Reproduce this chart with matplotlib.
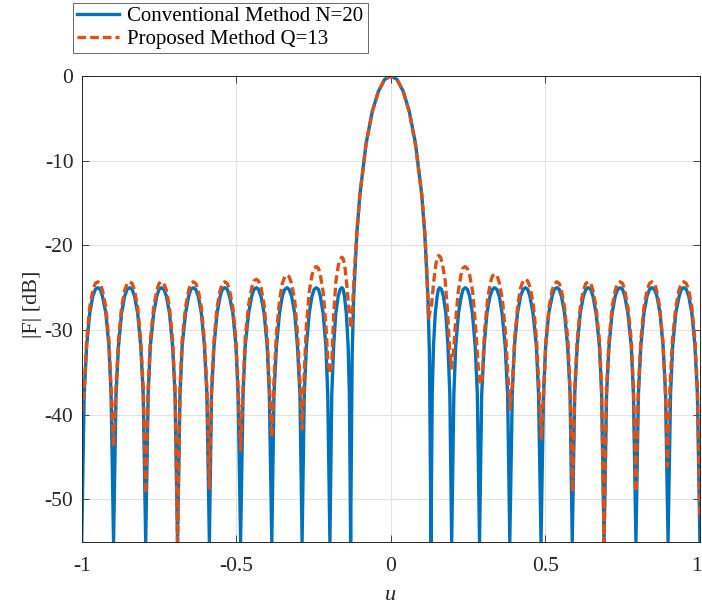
### array factor comparison: conventional vs proposed method

import numpy as np
import matplotlib
matplotlib.use('Agg')
import matplotlib.pyplot as plt
from matplotlib.transforms import ScaledTranslation

# conventional method N=20
u_conv = [
    -1.000, -0.992, -0.984, -0.974, -0.964, -0.956, -0.948, -0.940, -0.933, -0.922, -0.912, -0.905, -0.897,
    -0.889, -0.881, -0.871, -0.861, -0.853, -0.845, -0.837, -0.829, -0.819, -0.809, -0.801, -0.793,
    -0.785, -0.778, -0.767, -0.757, -0.750, -0.742, -0.734, -0.726, -0.716, -0.706, -0.698, -0.690,
    -0.682, -0.675, -0.664, -0.654, -0.647, -0.639, -0.631, -0.623, -0.613, -0.603, -0.595, -0.587,
    -0.580, -0.572, -0.562, -0.552, -0.545, -0.537, -0.529, -0.522, -0.511, -0.501, -0.494, -0.486,
    -0.478, -0.471, -0.460, -0.450, -0.443, -0.435, -0.428, -0.420, -0.410, -0.400, -0.393, -0.385,
    -0.378, -0.370, -0.360, -0.351, -0.343, -0.336, -0.329, -0.321, -0.311, -0.302, -0.294, -0.287,
    -0.280, -0.273, -0.264, -0.255, -0.248, -0.241, -0.234, -0.228, -0.219, -0.210, -0.204, -0.197,
    -0.191, -0.185, -0.178, -0.170, -0.164, -0.158, -0.154, -0.150, -0.144, -0.138, -0.134, -0.130,
    -0.125, -0.120, -0.110, -0.100, -0.080, -0.060, -0.040, -0.020, 0.000,
    0.020, 0.040, 0.060, 0.080, 0.100, 0.110, 0.120, 0.125, 0.130,
    0.134, 0.138, 0.144, 0.150, 0.154, 0.158, 0.164, 0.170, 0.178, 0.185, 0.191, 0.197,
    0.204, 0.210, 0.219, 0.228, 0.234, 0.241, 0.248, 0.255, 0.264, 0.273, 0.280, 0.287,
    0.294, 0.302, 0.311, 0.321, 0.329, 0.336, 0.343, 0.351, 0.360, 0.370, 0.378, 0.385,
    0.393, 0.400, 0.410, 0.420, 0.428, 0.435, 0.443, 0.450, 0.460, 0.471, 0.478, 0.486,
    0.494, 0.501, 0.511, 0.522, 0.529, 0.537, 0.545, 0.552, 0.562, 0.572, 0.580, 0.587,
    0.595, 0.603, 0.613, 0.623, 0.631, 0.639, 0.647, 0.654, 0.664, 0.675, 0.682, 0.690,
    0.698, 0.706, 0.716, 0.726, 0.734, 0.742, 0.750, 0.757, 0.767, 0.778, 0.785, 0.793,
    0.801, 0.809, 0.819, 0.829, 0.837, 0.845, 0.853, 0.861, 0.871, 0.881, 0.889, 0.897,
    0.905, 0.912, 0.922, 0.933, 0.940, 0.948, 0.956, 0.964, 0.974, 0.984, 0.992, 1.000,
]
db_conv = [
    -55.0, -37.6, -31.9, -28.0, -26.0, -25.2, -25.0, -25.2, -26.0, -28.0, -31.9, -37.6, -55.0,
    -37.6, -31.9, -28.0, -26.0, -25.2, -25.0, -25.2, -26.0, -28.0, -31.9, -37.6, -55.0,
    -37.6, -31.9, -28.0, -26.0, -25.2, -25.0, -25.2, -26.0, -28.0, -31.9, -37.6, -55.0,
    -37.6, -31.9, -28.0, -26.0, -25.2, -25.0, -25.2, -26.0, -28.0, -31.9, -37.6, -55.0,
    -37.6, -31.9, -28.0, -26.0, -25.2, -25.0, -25.2, -26.0, -28.0, -31.9, -37.6, -55.0,
    -37.6, -31.9, -28.0, -26.0, -25.2, -25.0, -25.2, -26.0, -28.0, -31.9, -37.6, -55.0,
    -37.6, -31.9, -28.0, -26.0, -25.2, -25.0, -25.2, -26.0, -28.0, -31.9, -37.6, -55.0,
    -37.6, -31.9, -28.0, -26.0, -25.2, -25.0, -25.2, -26.0, -28.0, -31.9, -37.6, -55.0,
    -37.6, -31.9, -28.0, -26.0, -25.2, -25.0, -25.2, -26.0, -28.0, -31.9, -37.6, -55.0,
    -32.9, -26.0, -18.7, -14.0, -8.0, -4.2, -1.8, -0.4, 0.0,
    -0.4, -1.8, -4.2, -8.0, -14.0, -18.7, -26.0, -32.9, -55.0,
    -37.6, -31.9, -28.0, -26.0, -25.2, -25.0, -25.2, -26.0, -28.0, -31.9, -37.6, -55.0,
    -37.6, -31.9, -28.0, -26.0, -25.2, -25.0, -25.2, -26.0, -28.0, -31.9, -37.6, -55.0,
    -37.6, -31.9, -28.0, -26.0, -25.2, -25.0, -25.2, -26.0, -28.0, -31.9, -37.6, -55.0,
    -37.6, -31.9, -28.0, -26.0, -25.2, -25.0, -25.2, -26.0, -28.0, -31.9, -37.6, -55.0,
    -37.6, -31.9, -28.0, -26.0, -25.2, -25.0, -25.2, -26.0, -28.0, -31.9, -37.6, -55.0,
    -37.6, -31.9, -28.0, -26.0, -25.2, -25.0, -25.2, -26.0, -28.0, -31.9, -37.6, -55.0,
    -37.6, -31.9, -28.0, -26.0, -25.2, -25.0, -25.2, -26.0, -28.0, -31.9, -37.6, -55.0,
    -37.6, -31.9, -28.0, -26.0, -25.2, -25.0, -25.2, -26.0, -28.0, -31.9, -37.6, -55.0,
    -37.6, -31.9, -28.0, -26.0, -25.2, -25.0, -25.2, -26.0, -28.0, -31.9, -37.6, -55.0,
]

# proposed method Q=13
u_prop = [
    -1.000, -0.992, -0.984, -0.974, -0.964, -0.956, -0.948, -0.940, -0.933, -0.922, -0.912, -0.905, -0.897,
    -0.889, -0.881, -0.871, -0.861, -0.853, -0.845, -0.837, -0.829, -0.819, -0.809, -0.801, -0.793,
    -0.785, -0.778, -0.767, -0.757, -0.750, -0.742, -0.734, -0.726, -0.716, -0.706, -0.698, -0.690,
    -0.682, -0.675, -0.664, -0.654, -0.647, -0.639, -0.631, -0.623, -0.613, -0.603, -0.595, -0.587,
    -0.580, -0.572, -0.562, -0.552, -0.545, -0.537, -0.529, -0.522, -0.511, -0.501, -0.494, -0.486,
    -0.478, -0.471, -0.460, -0.450, -0.443, -0.435, -0.428, -0.420, -0.410, -0.400, -0.393, -0.385,
    -0.378, -0.370, -0.360, -0.351, -0.343, -0.336, -0.329, -0.321, -0.311, -0.302, -0.294, -0.287,
    -0.280, -0.273, -0.264, -0.255, -0.248, -0.241, -0.234, -0.228, -0.219, -0.210, -0.204, -0.197,
    -0.191, -0.185, -0.178, -0.170, -0.164, -0.158, -0.154, -0.149, -0.143, -0.137, -0.128,
    -0.124, -0.120, -0.110, -0.100, -0.080, -0.060, -0.040, -0.020, 0.000,
    0.020, 0.040, 0.060, 0.080, 0.100, 0.110, 0.116, 0.122,
    0.132, 0.139, 0.146, 0.151, 0.155, 0.161, 0.167, 0.176, 0.184, 0.190, 0.196,
    0.203, 0.209, 0.218, 0.227, 0.233, 0.240, 0.247, 0.255, 0.265, 0.274, 0.282, 0.289,
    0.296, 0.303, 0.313, 0.322, 0.329, 0.336, 0.344, 0.351, 0.361, 0.371, 0.379, 0.386,
    0.393, 0.401, 0.411, 0.420, 0.428, 0.435, 0.443, 0.451, 0.461, 0.471, 0.479, 0.487,
    0.495, 0.502, 0.512, 0.522, 0.530, 0.537, 0.545, 0.552, 0.562, 0.573, 0.580, 0.588,
    0.595, 0.603, 0.613, 0.623, 0.631, 0.639, 0.647, 0.654, 0.664, 0.675, 0.682, 0.690,
    0.698, 0.706, 0.716, 0.726, 0.734, 0.742, 0.750, 0.757, 0.767, 0.778, 0.785, 0.793,
    0.801, 0.809, 0.819, 0.829, 0.837, 0.845, 0.853, 0.860, 0.870, 0.880, 0.888, 0.895,
    0.903, 0.911, 0.922, 0.932, 0.940, 0.948, 0.956, 0.964, 0.974, 0.984, 0.992, 1.000,
]
db_prop = [
    -39.8, -36.9, -31.2, -27.3, -25.3, -24.5, -24.3, -24.5, -25.3, -27.3, -31.2, -36.9, -43.8,
    -36.9, -31.2, -27.3, -25.3, -24.5, -24.3, -24.5, -25.3, -27.3, -31.2, -36.9, -49.3,
    -36.9, -31.2, -27.3, -25.3, -24.5, -24.3, -24.5, -25.3, -27.3, -31.2, -36.9, -55.0,
    -36.9, -31.2, -27.3, -25.3, -24.5, -24.3, -24.5, -25.3, -27.3, -31.2, -36.9, -48.7,
    -36.9, -31.2, -27.3, -25.3, -24.5, -24.3, -24.5, -25.3, -27.3, -31.2, -36.9, -44.2,
    -36.6, -30.9, -27.0, -25.0, -24.2, -24.0, -24.2, -25.0, -27.0, -30.9, -36.6, -42.7,
    -36.1, -30.4, -26.5, -24.5, -23.7, -23.5, -23.7, -24.5, -26.5, -30.4, -36.1, -41.7,
    -35.1, -29.4, -25.5, -23.5, -22.7, -22.5, -22.7, -23.5, -25.5, -29.4, -33.5, -35.2,
    -34.0, -28.3, -24.4, -22.4, -21.6, -21.4, -21.6, -22.4, -24.4, -27.0, -29.8,
    -27.5, -24.5, -18.5, -14.0, -8.0, -4.2, -1.8, -0.4, 0.0,
    -0.4, -1.8, -4.3, -8.2, -14.0, -18.5, -22.5, -28.6,
    -27.0, -24.2, -22.2, -21.4, -21.2, -21.4, -22.2, -24.2, -28.1, -32.0, -34.5,
    -32.5, -29.4, -25.5, -23.5, -22.7, -22.5, -22.7, -23.5, -25.5, -29.4, -34.0, -36.5,
    -35.5, -30.3, -26.4, -24.4, -23.6, -23.4, -23.6, -24.4, -26.4, -30.3, -35.5, -39.3,
    -36.6, -30.9, -27.0, -25.0, -24.2, -24.0, -24.2, -25.0, -27.0, -30.9, -36.6, -42.8,
    -36.9, -31.2, -27.3, -25.3, -24.5, -24.3, -24.5, -25.3, -27.3, -31.2, -36.9, -49.1,
    -36.9, -31.2, -27.3, -25.3, -24.5, -24.3, -24.5, -25.3, -27.3, -31.2, -36.9, -55.0,
    -36.9, -31.2, -27.3, -25.3, -24.5, -24.3, -24.5, -25.3, -27.3, -31.2, -36.9, -49.1,
    -36.9, -31.2, -27.3, -25.3, -24.5, -24.3, -24.5, -25.3, -27.3, -31.2, -36.9, -46.1,
    -36.9, -31.2, -27.3, -25.3, -24.5, -24.3, -24.5, -25.3, -27.3, -31.2, -36.9, -52.0,
]

x_ticks = [-1, -0.5, 0, 0.5, 1]
x_tick_labels = ['-1', '-0.5', '0', '0.5', '1']
y_ticks = [-50, -40, -30, -20, -10, 0]
y_tick_labels = ['-50', '-40', '-30', '-20', '-10', '0']

plt.rcParams['font.family'] = ['Liberation Serif', 'DejaVu Serif']
plt.rcParams['axes.unicode_minus'] = False

fig = plt.figure(figsize=(7.02, 6.11), dpi=100)
ax = fig.add_axes([0.1164, 0.1134, 0.8806, 0.7622])

# plotting
ax.plot(u_conv, db_conv, color='#0072BD', linewidth=2.4, label='Conventional Method N=20')
ax.plot(u_prop, db_prop, color='#D95319', linewidth=2.4, linestyle='--', dashes=(2.6, 1.2),
        label='Proposed Method Q=13')

ax.set_xlim(-1, 1)
ax.set_ylim(-55, 0)
ax.set_xticks(x_ticks)
ax.set_xticklabels(x_tick_labels)
ax.set_yticks(y_ticks)
ax.set_yticklabels(y_tick_labels)
ax.grid(True, color='#e3e3e3', linewidth=0.8)
ax.set_axisbelow(True)
for sp in ax.spines.values():
    sp.set_color('#262626')
    sp.set_linewidth(0.7)
ax.tick_params(direction='in', top=True, right=True, length=5, width=0.6,
               color='#262626', labelsize=15.5, labelcolor='#262626')
ax.tick_params(axis='x', pad=11)
ax.tick_params(axis='y', pad=6)

# keep the last x label inside the figure
last = ax.get_xticklabels()[-1]
last.set_transform(last.get_transform() + ScaledTranslation(-3 / 100, 0, fig.dpi_scale_trans))

ax.set_xlabel('u', fontsize=16, fontstyle='italic', color='#262626')
ax.set_ylabel('|F| [dB]', fontsize=16, color='#262626')
ax.xaxis.set_label_coords(0.5, -0.095)
ax.yaxis.set_label_coords(-0.064, 0.51)

leg = fig.legend(loc='upper left', bbox_to_anchor=(73.3 / 702, 1 - 2.7 / 611),
                 fontsize=15, frameon=True, fancybox=False, borderaxespad=0,
                 handlelength=2.0, handletextpad=0.4, borderpad=0.2, labelspacing=0.15)
leg.get_frame().set_edgecolor('#262626')
leg.get_frame().set_linewidth(0.6)

fig.savefig('out.png', dpi=100)
